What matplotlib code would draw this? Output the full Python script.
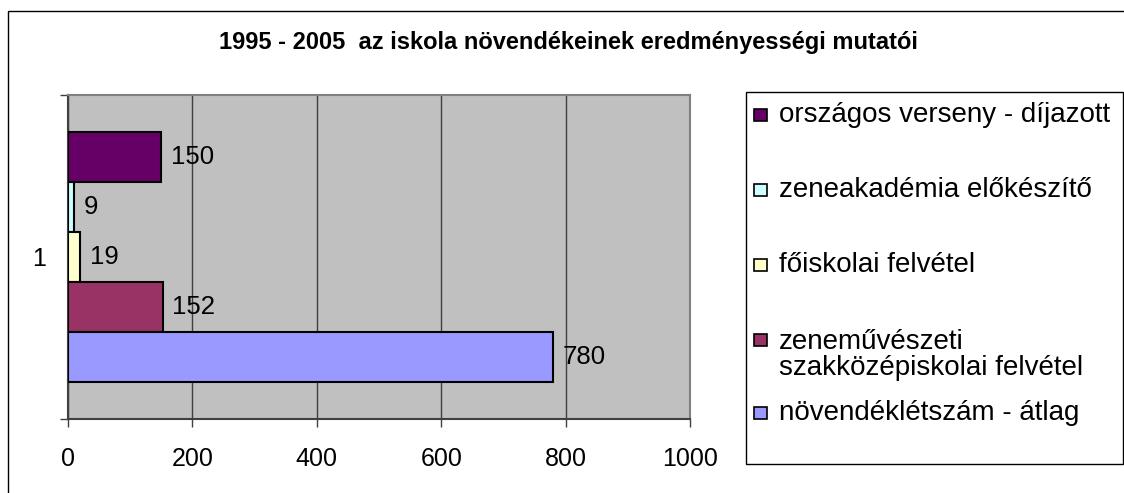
import matplotlib
matplotlib.use("Agg")
import matplotlib.pyplot as plt
from matplotlib.patches import Rectangle

# data (top to bottom as drawn)
series = [
    "országos verseny - díjazott",
    "zeneakadémia előkészítő",
    "főiskolai felvétel",
    "zeneművészeti\nszakközépiskolai felvétel",
    "növendéklétszám - átlag",
]
values = [150, 9, 19, 152, 780]
colors = ["#660066", "#CCFFFF", "#FFFFCC", "#993366", "#9999FF"]
category_label = "1"
x_ticks = [0, 200, 400, 600, 800, 1000]

W, H = 1124, 493
plt.rcParams['font.family'] = ['Liberation Sans', 'DejaVu Sans']

fig = plt.figure(figsize=(W / 100, H / 100), dpi=100)


def fx(x):
    return x / W


def fy(y):
    return 1 - y / H


# outer chart border (runs off the right and bottom edges)
fig.patches.append(Rectangle((fx(8), fy(500)), fx(1130) - fx(8), fy(11) - fy(500),
                             transform=fig.transFigure, fill=False,
                             edgecolor="black", linewidth=1.0))

ax = fig.add_axes([fx(68), fy(419), fx(690) - fx(68), fy(95) - fy(419)])
ax.set_facecolor("#C0C0C0")

n = len(values)
bar_h = 1 / (n + 1.5)
for i, (v, c) in enumerate(zip(values, colors)):
    yc = (n - 1) / 2 * bar_h - i * bar_h
    ax.barh(yc, v, height=bar_h, color=c, edgecolor="black", linewidth=1.5, zorder=3)
    ax.annotate(str(v), (v, yc), xytext=(7, 0), textcoords="offset points",
                va="center", ha="left", fontsize=18.5, zorder=4)

ax.set_xlim(0, 1000)
ax.set_ylim(-0.5, 0.5)
ax.set_xticks(x_ticks)
ax.set_xticklabels([str(t) for t in x_ticks], fontsize=18)
ax.tick_params(axis="x", direction="out", length=6, width=1, pad=14, color="#404040")
ax.grid(axis="x", color="#404040", linewidth=1, zorder=1)

ax.set_yticks([-0.5, 0.5])
ax.set_yticklabels(["", ""])
ax.set_yticks([0], minor=True)
ax.set_yticklabels([category_label], minor=True, fontsize=18)
ax.tick_params(axis="y", which="major", direction="out", length=6, width=1, color="#404040")
ax.tick_params(axis="y", which="minor", length=0, pad=16)

for s in ["left", "bottom"]:
    ax.spines[s].set_color("#404040")
    ax.spines[s].set_linewidth(1.5)
for s in ["top", "right"]:
    ax.spines[s].set_color("#808080")
    ax.spines[s].set_linewidth(1.5)

fig.text(fx(568), fy(43), "1995 - 2005  az iskola növendékeinek eredményességi mutatói",
         ha="center", va="center", fontsize=17, fontweight="bold")

# legend box
fig.patches.append(Rectangle((fx(746), fy(464)), fx(1123) - fx(746), fy(92) - fy(464),
                             transform=fig.transFigure, facecolor="white",
                             edgecolor="black", linewidth=1.0))
legend_y = [115, 190, 265, 340, 413]
for lab, c, y in zip(series, colors, legend_y):
    fig.patches.append(Rectangle((fx(754), fy(y + 6)), fx(767) - fx(754), fy(y - 6) - fy(y + 6),
                                 transform=fig.transFigure, facecolor=c,
                                 edgecolor="black", linewidth=1.2))
    extra = (lab.count("\n")) * 15
    fig.text(fx(779), fy(y + extra), lab, ha="left", va="center",
             fontsize=20, linespacing=1.0)

plt.savefig("out.png", dpi=100)
